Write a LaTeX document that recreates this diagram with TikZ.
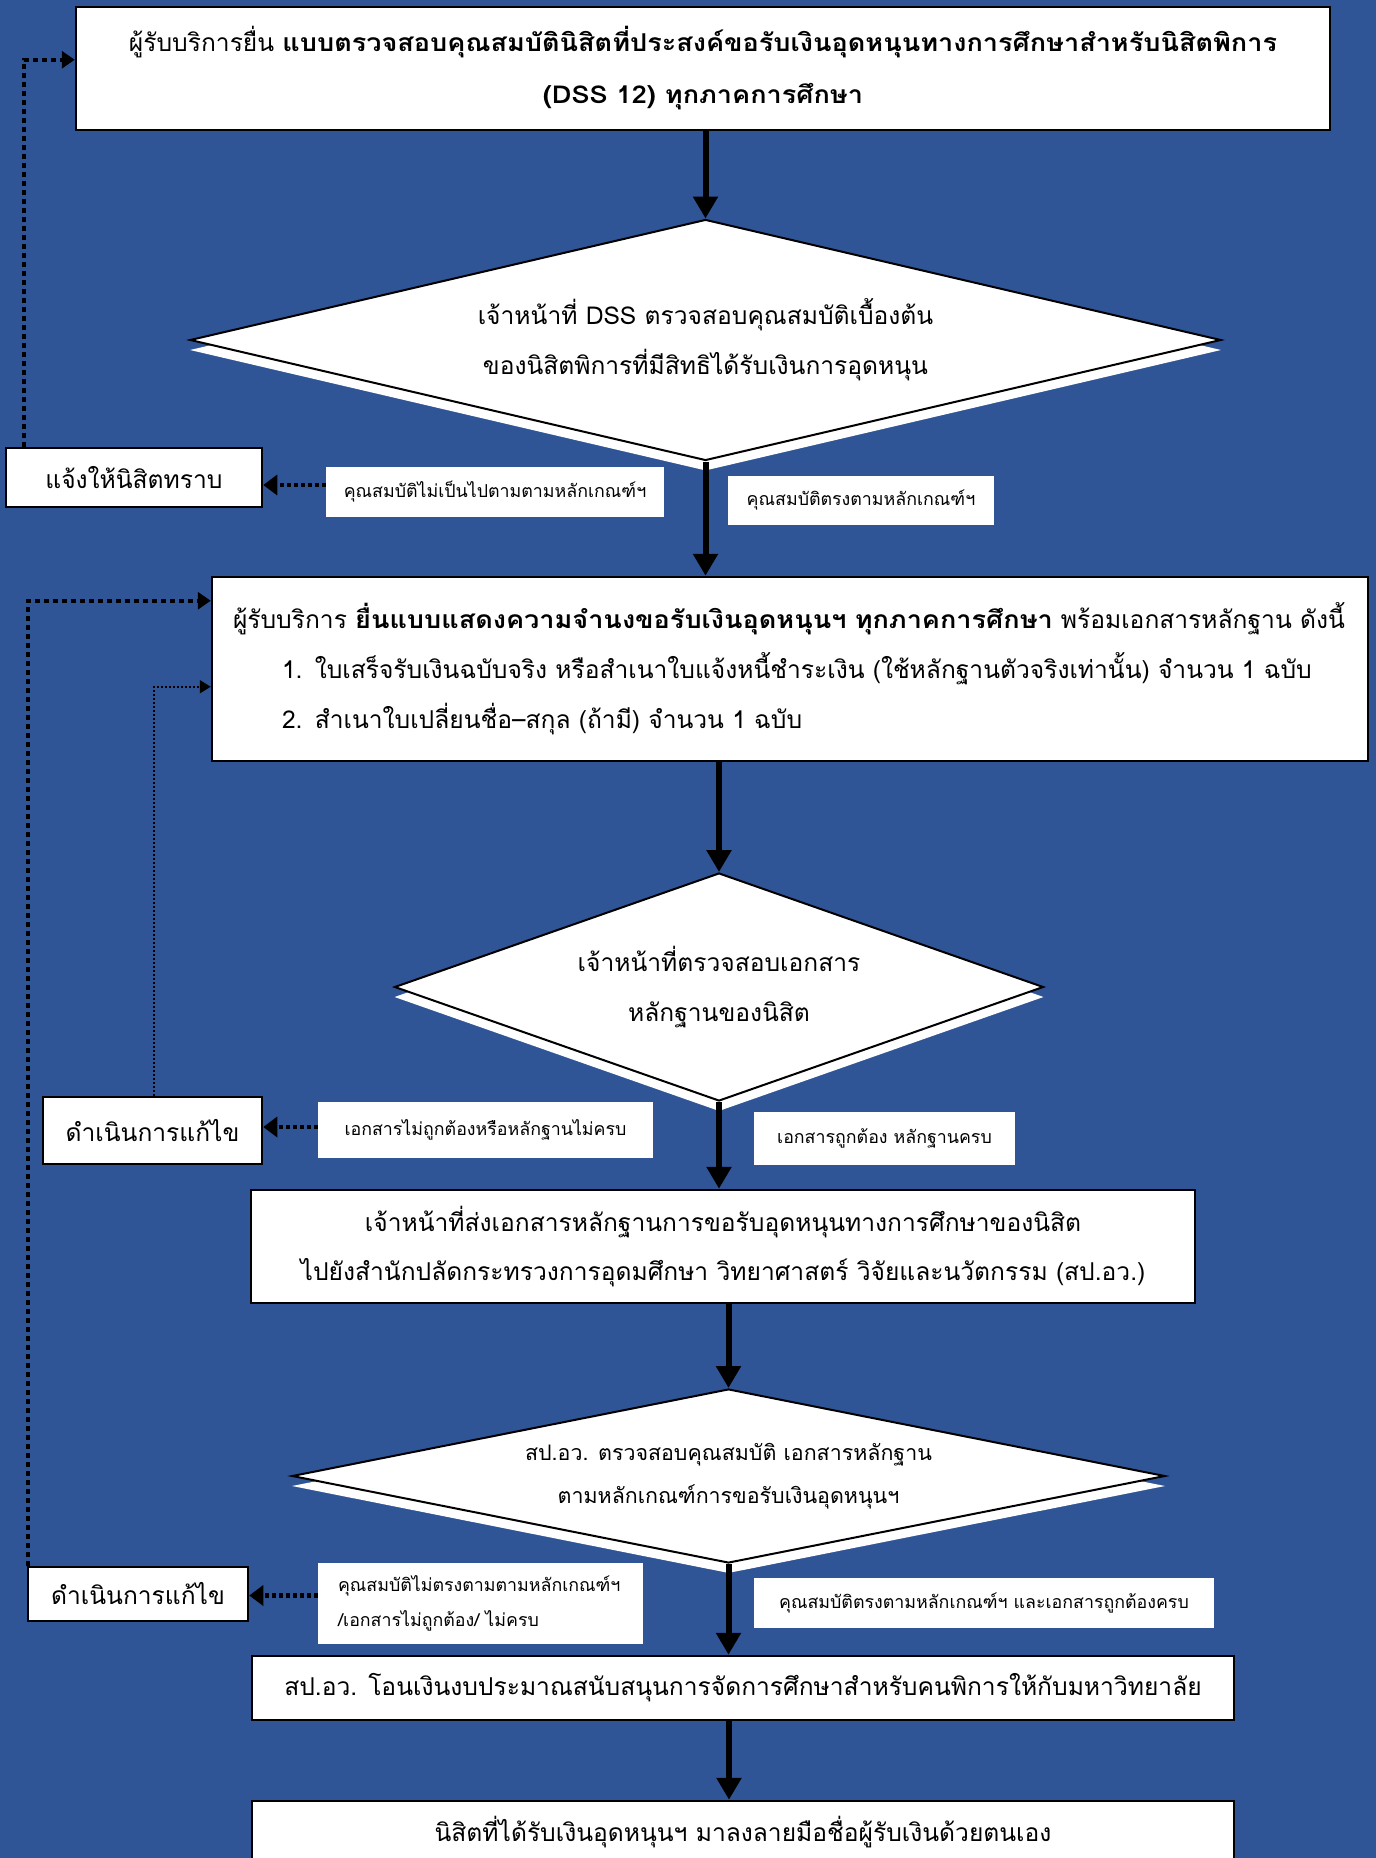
\documentclass[tikz,border=0pt]{standalone}
\usepackage{fontspec}
\setmainfont[Script=Thai,BoldFeatures={FakeStretch=1.10}]{Loma}
\usetikzlibrary{shapes.geometric,arrows.meta,calc}
\definecolor{bgblue}{RGB}{47,85,151}
\tikzset{
  box/.style={draw=black, line width=2.5pt, fill=white, inner sep=0pt, align=center},
  lbl/.style={fill=white, inner sep=0pt, align=center, font=\fontsize{17.8}{35}\selectfont},
  dia/.style={diamond, draw=black, line width=2pt, fill=white, inner sep=0pt, align=center},
  diashadow/.style={diamond, fill=white, inner sep=0pt},
  flow/.style={line width=6pt, -{Triangle[length=22pt,width=24pt]}},
  lblarrow/.style={line width=4.5pt, dash pattern=on 4pt off 3pt, -{Triangle[length=14pt,width=20pt]}},
  back/.style={line width=3.5pt, dash pattern=on 5pt off 4pt, -{Triangle[length=13pt,width=17pt]}},
  backthin/.style={line width=1.8pt, dash pattern=on 2pt off 2pt, -{Triangle[length=11pt,width=13pt]}},
  big/.style={font=\fontsize{24.6}{50}\selectfont}
}
\begin{document}
\begin{tikzpicture}[x=1pt,y=-1pt]
\fill[bgblue] (0,0) rectangle (1376,1858);
\useasboundingbox (0,0) rectangle (1376,1858);

% top box
\node[box,minimum width=1254pt,minimum height=123pt,font=\fontsize{24.6}{52}\selectfont] (top) at (703,68.5)
 {ผู้รับบริการยื่น \textbf{แบบตรวจสอบคุณสมบัตินิสิตที่ประสงค์ขอรับเงินอุดหนุนทางการศึกษาสำหรับนิสิตพิการ}\\\textbf{(DSS 12) ทุกภาคการศึกษา}};

% diamond 1
\node[diashadow,aspect=4.28,minimum width=1031pt,minimum height=241pt] (d1s) at (705.5,350) {};
\node[dia,big,aspect=4.28,minimum width=1031pt,minimum height=241pt] (d1) at (705.5,340)
 {เจ้าหน้าที่ DSS ตรวจสอบคุณสมบัติเบื้องต้น\\ของนิสิตพิการที่มีสิทธิได้รับเงินการอุดหนุน};

\node[box,big,minimum width=256pt,minimum height=59pt] (notify) at (134,477.5) {แจ้งให้นิสิตทราบ};
\node[lbl,minimum width=338pt,minimum height=50pt] (L1) at (495,492) {คุณสมบัติไม่เป็นไปตามตามหลักเกณฑ์ฯ};
\node[lbl,minimum width=266pt,minimum height=49pt] (L2) at (861,500.5) {คุณสมบัติตรงตามหลักเกณฑ์ฯ};

% box 2
\node[box,big,minimum width=1156pt,minimum height=184pt,text width=1114pt,align=left] (b2) at (790,669)
 {\mbox{ผู้รับบริการ \textbf{ยื่นแบบแสดงความจำนงขอรับเงินอุดหนุนฯ ทุกภาคการศึกษา} พร้อมเอกสารหลักฐาน ดังนี้}\\
 \hspace*{49pt}1. ใบเสร็จรับเงินฉบับจริง หรือสำเนาใบแจ้งหนี้ชำระเงิน (ใช้หลักฐานตัวจริงเท่านั้น) จำนวน 1 ฉบับ\\
 \hspace*{49pt}2. สำเนาใบเปลี่ยนชื่อ–สกุล (ถ้ามี) จำนวน 1 ฉบับ};

% diamond 2
\node[diashadow,aspect=2.85,minimum width=649pt,minimum height=228pt] (d2s) at (719,997) {};
\node[dia,big,aspect=2.85,minimum width=649pt,minimum height=228pt] (d2) at (719,987)
 {เจ้าหน้าที่ตรวจสอบเอกสาร\\หลักฐานของนิสิต};

\node[box,big,minimum width=219pt,minimum height=67pt] (fix1) at (152.5,1130.5) {ดำเนินการแก้ไข};
\node[lbl,minimum width=335pt,minimum height=56pt] (L3) at (485.5,1130) {เอกสารไม่ถูกต้องหรือหลักฐานไม่ครบ};
\node[lbl,minimum width=261pt,minimum height=53pt] (L4) at (884.5,1138.5) {เอกสารถูกต้อง หลักฐานครบ};

% box 3
\node[box,minimum width=944pt,minimum height=113pt,font=\fontsize{24.6}{49}\selectfont] (b3) at (723,1246.5)
 {เจ้าหน้าที่ส่งเอกสารหลักฐานการขอรับอุดหนุนทางการศึกษาของนิสิต\\ไปยังสำนักปลัดกระทรวงการอุดมศึกษา วิทยาศาสตร์ วิจัยและนวัตกรรม (สป.อว.)};

% diamond 3
\node[diashadow,aspect=5.02,minimum width=873pt,minimum height=174pt] (d3s) at (728.5,1486) {};
\node[dia,aspect=5.02,minimum width=873pt,minimum height=174pt,font=\fontsize{21.4}{43}\selectfont] (d3) at (728.5,1476)
 {สป.อว. ตรวจสอบคุณสมบัติ เอกสารหลักฐาน\\ตามหลักเกณฑ์การขอรับเงินอุดหนุนฯ};

\node[box,big,minimum width=220pt,minimum height=54pt] (fix2) at (138,1594) {ดำเนินการแก้ไข};
\node[lbl,minimum width=325pt,minimum height=81pt,text width=285pt,align=left] (L5) at (480.5,1603.5)
 {คุณสมบัติไม่ตรงตามตามหลักเกณฑ์ฯ\\/เอกสารไม่ถูกต้อง/ ไม่ครบ};
\node[lbl,minimum width=460pt,minimum height=50pt] (L6) at (984,1603) {คุณสมบัติตรงตามหลักเกณฑ์ฯ และเอกสารถูกต้องครบ};

% box 4, 5
\node[box,big,minimum width=982pt,minimum height=64pt] (b4) at (743,1688)
 {สป.อว. โอนเงินงบประมาณสนับสนุนการจัดการศึกษาสำหรับคนพิการให้กับมหาวิทยาลัย};
\node[box,big,minimum width=982pt,minimum height=62pt] (b5) at (743,1832)
 {นิสิตที่ได้รับเงินอุดหนุนฯ มาลงลายมือชื่อผู้รับเงินด้วยตนเอง};

% main flow arrows
\draw[flow] (d1.north |- top.south) -- (d1.north);
\draw[flow] (d1.south) -- (d1.south |- b2.north);
\draw[flow] (d2.north |- b2.south) -- (d2.north);
\draw[flow] (d2.south) -- (d2.south |- b3.north);
\draw[flow] (d3.north |- b3.south) -- (d3.north);
\draw[flow] (d3.south) -- (d3.south |- b4.north);
\draw[flow] ($(b4.south)+(-14,0)$) -- ($(b5.north)+(-14,0)$);

% label arrows
\draw[lblarrow] ($(L1.west)+(0,-7)$) -- ($(notify.east |- L1.west)+(0,-7)$);
\draw[lblarrow] ($(L3.west)+(0,-3)$) -- ($(fix1.east |- L3.west)+(0,-3)$);
\draw[lblarrow] ($(L5.west)+(0,-8)$) -- ($(fix2.east |- L5.west)+(0,-8)$);

% feedback connectors
\draw[back] ($(notify.north west)+(19,0)$) |- ($(top.north west)+(0,54)$);
\draw[back] ($(fix2.north west)+(1,0)$) |- ($(b2.north west)+(0,25)$);
\draw[backthin] ($(fix1.north west)+(112,0)$) |- ($(b2.north west)+(0,111)$);
\end{tikzpicture}
\end{document}
